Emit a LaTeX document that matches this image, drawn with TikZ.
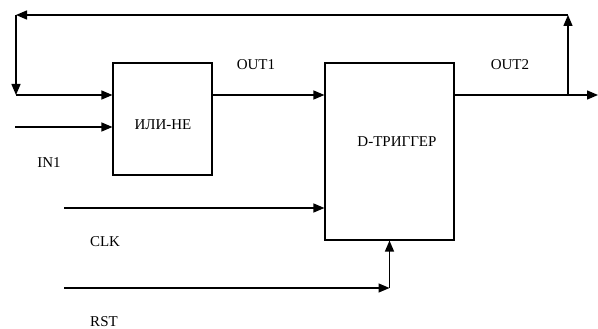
\documentclass[tikz,border=0pt]{standalone}
\usepackage{fontspec}
\setmainfont{Liberation Serif}
\usetikzlibrary{arrows.meta}
\begin{document}
\begin{tikzpicture}[x=1pt,y=-1pt,
  blk/.style={draw,line width=1.1pt,inner sep=0pt},
  lbl/.style={font=\fontsize{15}{17}\selectfont,inner sep=0pt},
  wire/.style={line width=1.4pt},
  arr/.style={wire,-{Triangle[length=11pt,width=9pt]}}]
\useasboundingbox (0,0) rectangle (598,329);
% blocks
\node[blk,minimum width=99pt,minimum height=112pt] (nor) at (162.5,119) {};
\node[blk,minimum width=129pt,minimum height=177pt] (dff) at (389.5,151.5) {};
\node[lbl] (norT) at (163,125) {ИЛИ-НЕ};
\node[lbl] (dffT) at (397,142) {D-ТРИГГЕР};
% labels
\node[lbl] (out1) at (256,65) {OUT1};
\node[lbl] (out2) at (510,65) {OUT2};
\node[lbl] (in1) at (49,163) {IN1};
\node[lbl] (clk) at (105,242) {CLK};
\node[lbl] (rst) at (104,322) {RST};
% coordinates
\coordinate (y1) at (0,95);
\coordinate (br) at (568,95);
\coordinate (tr) at (568,15);
\coordinate (tl) at (16,15);
\coordinate (bl) at (16,95);
\coordinate (in1s) at (15,127);
\coordinate (outE) at (598,95);
\coordinate (clks) at (64,208);
\coordinate (rsts) at (64,288);
\coordinate (rstc) at (389.5,288);
% wires
\draw[arr] (nor.east |- y1) -- (dff.west |- y1);
\draw[arr] (dff.east |- y1) -- (outE);
\draw[arr] (br) -- (tr);
\draw[arr] (tr) -- (tl);
\draw[arr] (tl) -- (bl);
\draw[arr] (bl) -- (nor.west |- bl);
\draw[arr] (in1s) -- (nor.west |- in1s);
\draw[arr] (clks) -- (dff.west |- clks);
\draw[arr] (rsts) -- (rstc);
\draw[arr] (rstc) -- (dff.south);
\end{tikzpicture}
\end{document}
